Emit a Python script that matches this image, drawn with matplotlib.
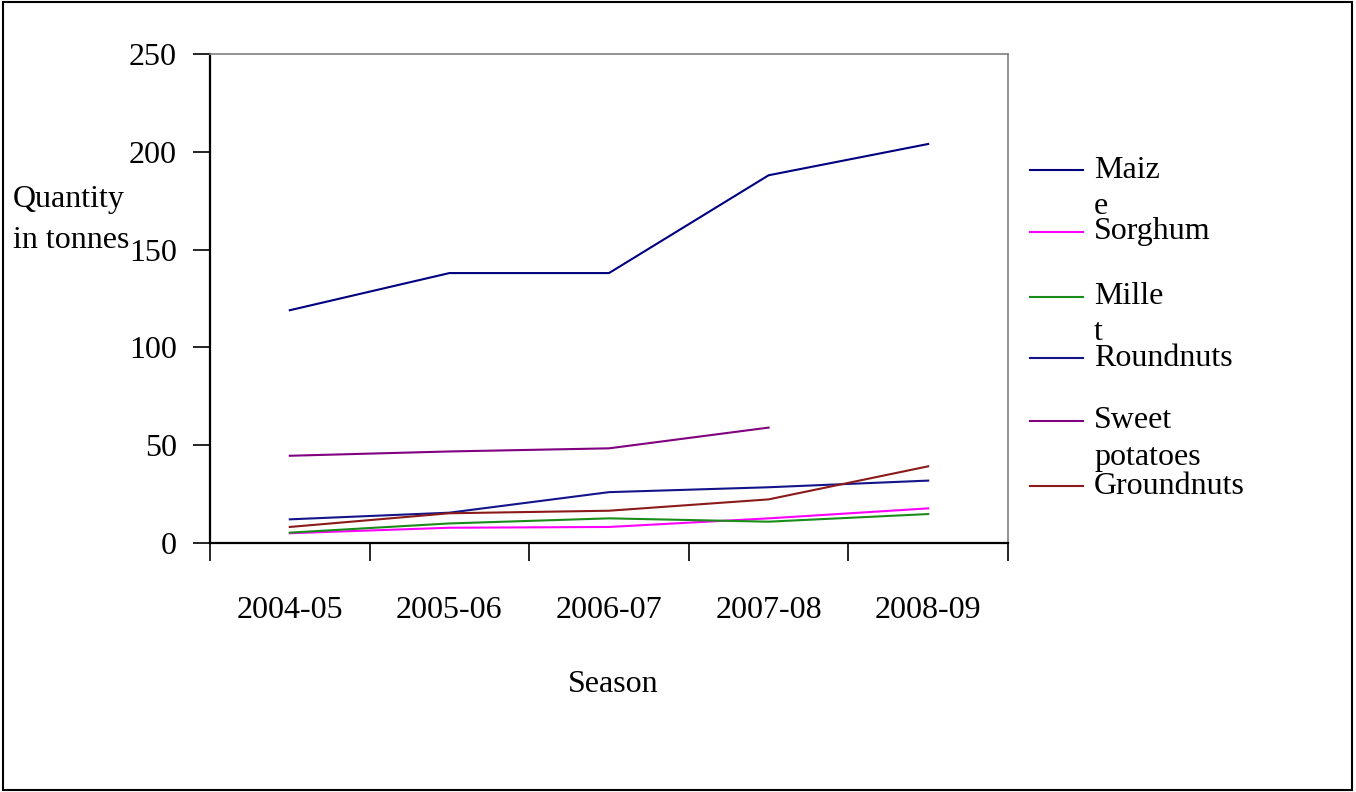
import matplotlib.pyplot as plt
from matplotlib.lines import Line2D
from matplotlib.patches import Rectangle

seasons = ["2004-05", "2005-06", "2006-07", "2007-08", "2008-09"]
maize = [119, 138, 138, 188, 204]
sorghum = [5, 7.8, 8.2, 12.6, 17.7]
millet = [5.3, 10, 12.6, 10.9, 14.8]
roundnuts = [12.1, 15.5, 26, 28.5, 31.9]
sweet_potatoes = [44.6, 46.8, 48.4, 59]   # no value for 2008-09
groundnuts = [8.2, 15.2, 16.5, 22.3, 39.2]

series = [
    ("Maiz\ne", maize, "#000080"),
    ("Sorghum", sorghum, "#ff00ff"),
    ("Mille\nt", millet, "#1a8c1a"),
    ("Roundnuts", roundnuts, "#14148a"),
    ("Sweet\npotatoes", sweet_potatoes, "#800080"),
    ("Groundnuts", groundnuts, "#8b1a1a"),
]

plt.rcParams['font.family'] = ['Liberation Serif', 'DejaVu Serif']
fs = 23

fig = plt.figure(figsize=(13.56, 7.92), dpi=100)
ax = fig.add_axes([210 / 1356, 1 - 543 / 792, 798 / 1356, 489 / 792])

for name, vals, col in series:
    xs = [i + 0.5 for i in range(len(vals))]
    ax.plot(xs, vals, color=col, lw=1.5)

ax.set_xlim(0, len(seasons))
ax.set_ylim(0, 250)
ax.set_yticks([0, 50, 100, 150, 200, 250])
ax.tick_params(axis='y', direction='out', length=12, width=1.2, labelsize=fs, pad=12)
ax.set_xticks(range(len(seasons) + 1))
ax.set_xticklabels([])
ax.tick_params(axis='x', direction='out', length=13, width=1.2)
ax.set_xticks([i + 0.5 for i in range(len(seasons))], minor=True)
ax.set_xticklabels(seasons, minor=True, fontsize=fs)
ax.tick_params(axis='x', which='minor', length=0, pad=38)

for s in ['top', 'right']:
    ax.spines[s].set_color('#808080')
    ax.spines[s].set_linewidth(1.2)
for s in ['left', 'bottom']:
    ax.spines[s].set_linewidth(1.6)

fig.text(613 / 1356, 1 - 684 / 792, "Season", fontsize=fs, ha='center', va='center')
fig.text(13 / 1356, 1 - 200 / 792, "Quantity", fontsize=fs, ha='left', va='center')
fig.text(13 / 1356, 1 - 241 / 792, "in tonnes", fontsize=fs, ha='left', va='center')

# legend drawn by hand so the wrapped labels spill below like the original
leg_y = [170, 232, 297, 358, 421, 486]
for (name, vals, col), y in zip(series, leg_y):
    yf = 1 - y / 792
    fig.add_artist(Line2D([1030 / 1356, 1083 / 1356], [yf, yf], color=col, lw=1.5,
                          transform=fig.transFigure))
    first, *rest = name.split("\n")
    fig.text(1094 / 1356, yf, first, fontsize=fs, ha='left', va='center')
    if rest:
        fig.text(1094 / 1356, yf - 36 / 792, rest[0], fontsize=fs, ha='left', va='center')

fig.add_artist(Rectangle((0.002, 0.002), 0.995, 0.996, fill=False, ec='black', lw=1.5,
                         transform=fig.transFigure))

fig.savefig("out.png", dpi=100)
